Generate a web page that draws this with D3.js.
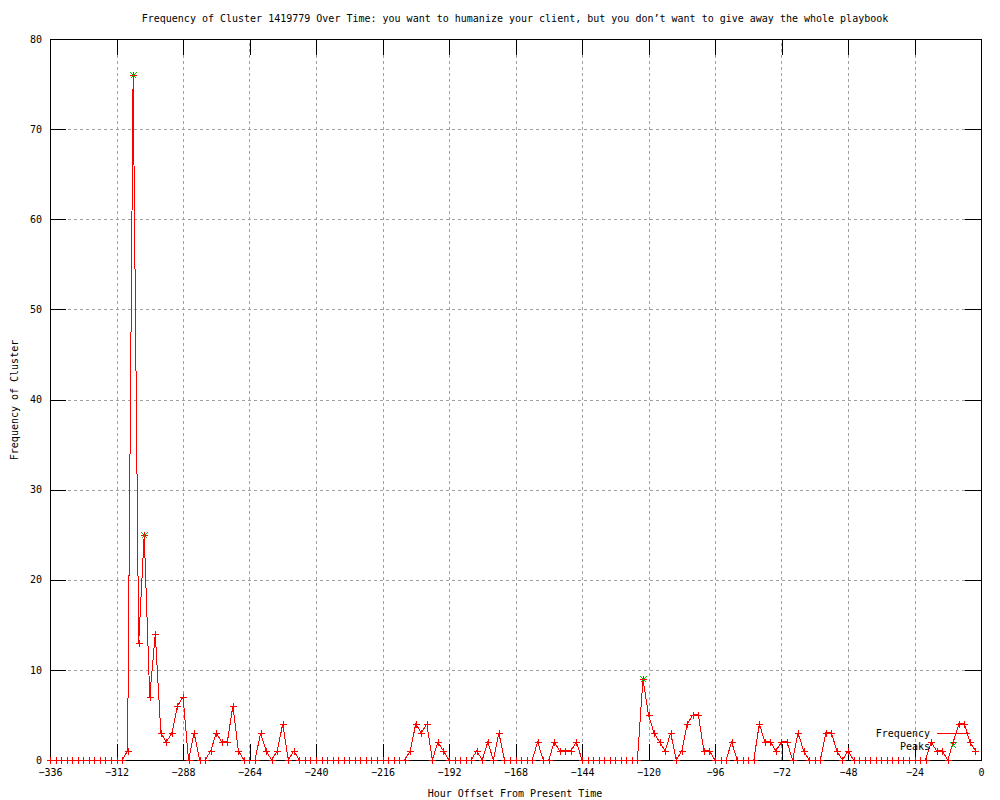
<!DOCTYPE html>
<meta charset="utf-8">
<style>
body { margin: 0; background: #fff; }
text {
  font-family: "DejaVu Sans Mono", monospace;
  font-size: 10px;
  fill: #000;
}
.grid line {
  stroke: #a0a0a0;
  stroke-dasharray: 3,3;
  shape-rendering: crispEdges;
}
.axis path { display: none; }
.axis line {
  stroke: #000;
  shape-rendering: crispEdges;
}
.frame {
  fill: none;
  stroke: #000;
  shape-rendering: crispEdges;
}
.freq-line {
  fill: none;
  stroke: #f00;
  stroke-width: 1;
  shape-rendering: crispEdges;
}
.freq-pt, .peak-pt {
  fill: none;
  stroke-width: 1;
  shape-rendering: crispEdges;
}
.freq-pt { stroke: #f00; }
.peak-pt { stroke: #00c000; }
</style>
<svg width="1000" height="800"></svg>
<script src="https://d3js.org/d3.v7.min.js"></script>
<script>

// hours before now, one sample every 2 hours
var hours = d3.range(-336, 0, 2);

var counts = [
  0,0,0,0,0,0,0,0,0,0,0,0,0,0,          // -336 .. -310
  1,76,13,25,7,14,3,2,3,6,7,0,3,0,      // -308 .. -282
  0,1,3,2,2,6,1,0,0,0,3,1,0,1,4,0,1,    // -280 .. -248
  0,0,0,0,0,0,0,0,0,0,0,0,0,0,0,0,0,0,0,0, // -246 .. -208
  1,4,3,4,0,2,1,                        // -206 .. -194
  0,0,0,0,0,1,0,2,0,3,0,0,0,0,0,0,      // -192 .. -162
  2,0,0,2,1,1,1,2,0,                    // -160 .. -144
  0,0,0,0,0,0,0,0,0,0,                  // -142 .. -124
  9,5,3,2,1,3,0,1,4,5,5,1,1,            // -122 .. -98
  0,0,0,2,0,0,0,0,                      // -96 .. -82
  4,2,2,1,2,2,0,3,1,0,0,0,3,3,1,0,1,    // -80 .. -48
  0,0,0,0,0,0,0,0,0,0,0,0,0,0,          // -46 .. -20
  2,1,1,0,2,4,4,2,1                     // -18 .. -2
];

var peakHours = [-306, -302, -122];
var peakCounts = [76, 25, 9];

var xTicks = d3.range(-336, 1, 24);
var yTicks = d3.range(0, 81, 10);

var svg = d3.select("svg");

var x = d3.scaleLinear().domain([-336, 0]).range([50, 981]);
var y = d3.scaleLinear().domain([0, 80]).range([760, 39]);

var data = hours.map(function(h, i) { return [h, counts[i]]; });
var peaks = peakHours.map(function(h, i) { return [h, peakCounts[i]]; });

// grid
svg.append("g").attr("class", "grid")
  .selectAll("line").data(xTicks.slice(1, -1)).enter().append("line")
    .attr("x1", function(d) { return Math.round(x(d)) + 0.5; })
    .attr("x2", function(d) { return Math.round(x(d)) + 0.5; })
    .attr("y1", y(0)).attr("y2", y(80));

svg.append("g").attr("class", "grid")
  .selectAll("line").data(yTicks.slice(1, -1)).enter().append("line")
    .attr("y1", function(d) { return Math.round(y(d)) + 0.5; })
    .attr("y2", function(d) { return Math.round(y(d)) + 0.5; })
    .attr("x1", x(-336)).attr("x2", x(0));

// axes, ticks point inward on all four sides
var tick = 16;

var xAxis = svg.append("g").attr("class", "axis")
    .attr("transform", "translate(0," + y(0) + ")")
    .call(d3.axisBottom(x).tickValues(xTicks).tickSize(-tick).tickPadding(tick + 9));
xAxis.selectAll("text").attr("y", 9).attr("dy", "0.71em");

var yAxis = svg.append("g").attr("class", "axis")
    .attr("transform", "translate(" + x(-336) + ",0)")
    .call(d3.axisLeft(y).tickValues(yTicks).tickSize(-tick));
yAxis.selectAll("text").attr("x", -8);

svg.append("g").attr("class", "axis")
    .attr("transform", "translate(0," + y(80) + ")")
    .call(d3.axisTop(x).tickValues(xTicks).tickSize(-tick).tickFormat(""));

svg.append("g").attr("class", "axis")
    .attr("transform", "translate(" + x(0) + ",0)")
    .call(d3.axisRight(y).tickValues(yTicks).tickSize(-tick).tickFormat(""));

svg.append("rect").attr("class", "frame")
    .attr("x", x(-336) + 0.5).attr("y", y(80) + 0.5)
    .attr("width", x(0) - x(-336)).attr("height", y(0) - y(80));

// frequency series
var line = d3.line()
    .x(function(d) { return x(d[0]); })
    .y(function(d) { return y(d[1]); });

svg.append("path")
    .datum(data)
    .attr("class", "freq-line")
    .attr("d", line);

var plus = 3.5;
svg.append("g").selectAll("path").data(data).enter().append("path")
    .attr("class", "freq-pt")
    .attr("d", function(d) {
      var cx = Math.round(x(d[0])) + 0.5, cy = Math.round(y(d[1])) + 0.5;
      return "M" + (cx - plus) + "," + cy + "H" + (cx + plus) +
             "M" + cx + "," + (cy - plus) + "V" + (cy + plus);
    });

function cross(cx, cy) {
  var r = 3;
  return "M" + (cx - r) + "," + (cy - r) + "L" + (cx + r) + "," + (cy + r) +
         "M" + (cx - r) + "," + (cy + r) + "L" + (cx + r) + "," + (cy - r);
}

svg.append("g").selectAll("path").data(peaks).enter().append("path")
    .attr("class", "peak-pt")
    .attr("d", function(d) { return cross(Math.round(x(d[0])) + 0.5, Math.round(y(d[1])) + 0.5); });

// legend
var legend = svg.append("g");
legend.append("text").attr("x", 930).attr("y", 733).attr("dy", "0.35em")
    .attr("text-anchor", "end").text("Frequency");
legend.append("line").attr("x1", 937).attr("x2", 970).attr("y1", 733.5).attr("y2", 733.5)
    .attr("stroke", "#f00").attr("shape-rendering", "crispEdges");
legend.append("text").attr("x", 930).attr("y", 746).attr("dy", "0.35em")
    .attr("text-anchor", "end").text("Peaks");
legend.append("path").attr("class", "peak-pt").attr("d", cross(953.5, 745.5));

// titles
svg.append("text").attr("x", 515).attr("y", 18).attr("dy", "0.35em")
    .attr("text-anchor", "middle")
    .text("Frequency of Cluster 1419779 Over Time: you want to humanize your client, but you don\u2019t want to give away the whole playbook");

svg.append("text").attr("x", 515).attr("y", 793).attr("dy", "0.35em")
    .attr("text-anchor", "middle")
    .text("Hour Offset From Present Time");

svg.append("text")
    .attr("transform", "translate(14,400) rotate(-90)")
    .attr("dy", "0.35em")
    .attr("text-anchor", "middle")
    .text("Frequency of Cluster");

</script>
